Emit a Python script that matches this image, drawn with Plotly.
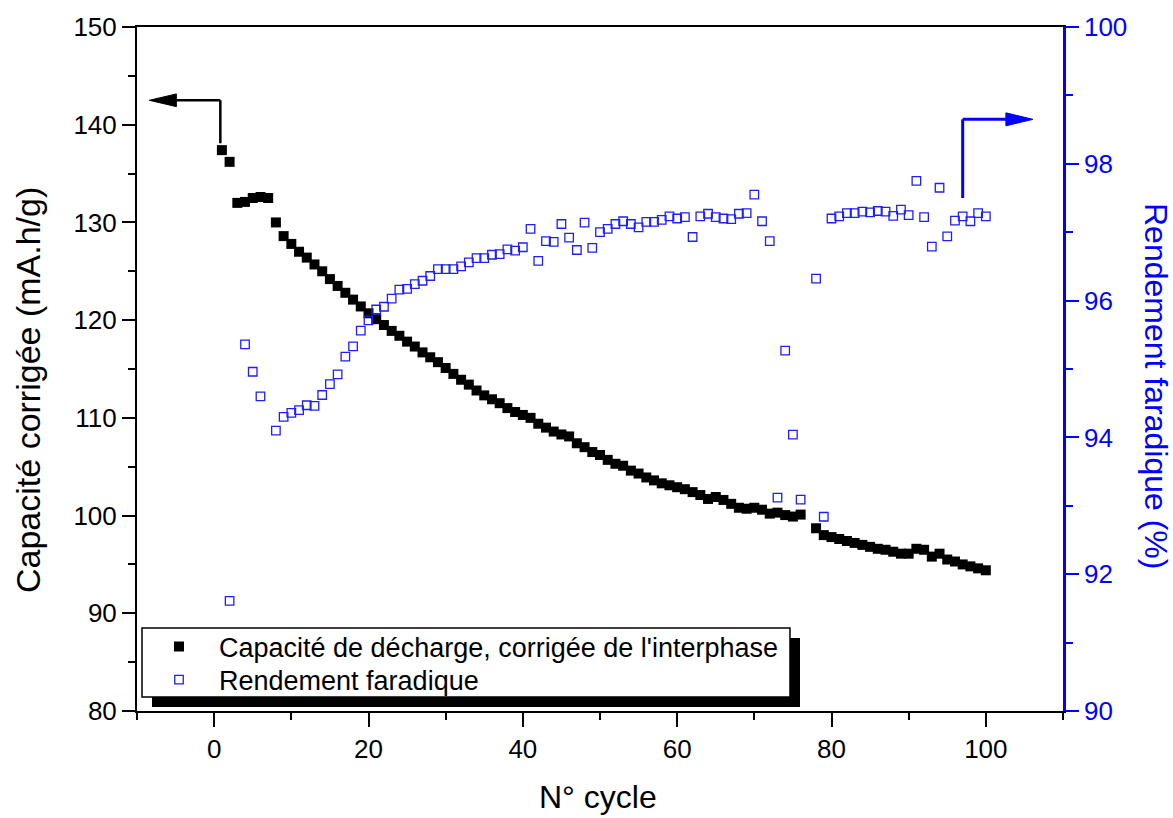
import plotly.graph_objects as go

# Cycle number, discharge capacity (mA.h/g) and faradaic efficiency (%)
cycles = list(range(1, 101))

capacity = [
    137.4, 136.2, 132.0, 132.1, 132.5, 132.6, 132.5, 130.0, 128.6, 127.8,
    127.0, 126.4, 125.7, 125.0, 124.2, 123.5, 122.8, 122.1, 121.4, 120.7,
    120.1, 119.5, 118.9, 118.4, 117.8, 117.3, 116.7, 116.2, 115.7, 115.1,
    114.5, 113.9, 113.4, 112.8, 112.3, 111.9, 111.5, 111.0, 110.6, 110.3,
    110.0, 109.4, 109.0, 108.6, 108.3, 108.1, 107.4, 107.0, 106.5, 106.2,
    105.7, 105.3, 105.1, 104.6, 104.3, 103.9, 103.6, 103.3, 103.1, 102.9,
    102.7, 102.4, 102.1, 101.7, 101.9, 101.6, 101.2, 100.8, 100.7, 100.8,
    100.6, 100.2, 100.3, 100.05, 99.9, 100.1, None, 98.7, 98.0, 97.8,
    97.6, 97.4, 97.2, 97.0, 96.8, 96.6, 96.5, 96.3, 96.1, 96.1,
    96.6, 96.5, 95.8, 96.1, 95.5, 95.3, 95.0, 94.8, 94.6, 94.4,
]

efficiency = [
    None, 91.61, None, 95.36, 94.96, 94.60, None, 94.10, 94.30, 94.36,
    94.40, 94.47, 94.46, 94.62, 94.78, 94.92, 95.18, 95.33, 95.56, 95.71,
    95.87, 95.91, 96.03, 96.16, 96.17, 96.24, 96.29, 96.36, 96.46, 96.46,
    96.46, 96.50, 96.56, 96.62, 96.62, 96.67, 96.68, 96.75, 96.73, 96.78,
    97.05, 96.58, 96.87, 96.86, 97.12, 96.92, 96.74, 97.14, 96.77, 97.00,
    97.05, 97.12, 97.16, 97.12, 97.07, 97.15, 97.15, 97.18, 97.23, 97.20,
    97.22, 96.93, 97.23, 97.27, 97.22, 97.20, 97.19, 97.27, 97.28, 97.55,
    97.16, 96.87, 93.12, 95.27, 94.04, 93.09, None, 96.32, 92.84, 97.20,
    97.23, 97.28, 97.28, 97.30, 97.29, 97.31, 97.30, 97.24, 97.33, 97.25,
    97.75, 97.22, 96.79, 97.65, 96.94, 97.17, 97.23, 97.16, 97.28, 97.23,
]

x_range = [-10, 110]
cap_range = [80, 150]
eff_range = [90, 100]

BLUE = "#0000FF"
FONT = "Arial, Liberation Sans, sans-serif"

W, H = 1173, 818
M_L, M_R, M_T, M_B = 137, 110, 27, 107
PW = W - M_L - M_R
PH = H - M_T - M_B


def px_x(p):
    return (p - M_L) / PW


def px_y(p):
    return (H - M_B - p) / PH


fig = go.Figure()

fig.add_trace(go.Scatter(
    x=cycles, y=capacity, mode="markers",
    name="Capacité de décharge, corrigée de l'interphase",
    marker=dict(symbol="square", size=10, color="black", line=dict(width=0)),
    yaxis="y", legend="legend",
))
fig.add_trace(go.Scatter(
    x=cycles, y=efficiency, mode="markers",
    name="Rendement faradique",
    marker=dict(symbol="square-open", size=8.5, color="#1e1eff",
                line=dict(width=1.3, color="#1e1eff")),
    yaxis="y2", legend="legend2",
))

# Legend frame with its drop shadow, plus direction arrows toward each axis
shapes = [
    dict(type="rect", xref="paper", yref="paper",
         x0=px_x(152), x1=px_x(800), y0=px_y(707), y1=px_y(638),
         fillcolor="black", line=dict(width=0), layer="above"),
    dict(type="rect", xref="paper", yref="paper",
         x0=px_x(142), x1=px_x(790), y0=px_y(697), y1=px_y(628),
         fillcolor="white", line=dict(color="black", width=1.5), layer="above"),
    # left arrow (capacity -> left axis)
    dict(type="line", xref="x", yref="y", x0=0.8, y0=138.1, x1=0.8, y1=142.5,
         line=dict(color="black", width=2.5)),
    dict(type="line", xref="x", yref="y", x0=0.8, y0=142.5, x1=-5.0, y1=142.5,
         line=dict(color="black", width=2.5)),
    dict(type="path", xref="x", yref="y",
         path="M -4.9,143.15 L -8.4,142.5 L -4.9,141.85 Z",
         fillcolor="black", line=dict(color="black", width=1)),
    # right arrow (efficiency -> right axis)
    dict(type="line", xref="x", yref="y2", x0=97.0, y0=97.5, x1=97.0, y1=98.65,
         line=dict(color=BLUE, width=3)),
    dict(type="line", xref="x", yref="y2", x0=97.0, y0=98.65, x1=102.8, y1=98.65,
         line=dict(color=BLUE, width=3)),
    dict(type="path", xref="x", yref="y2",
         path="M 102.6,98.745 L 106.1,98.65 L 102.6,98.555 Z",
         fillcolor=BLUE, line=dict(color=BLUE, width=1)),
]

annotations = [
    dict(text="N° cycle", xref="paper", yref="paper",
         x=px_x(598), y=px_y(817), showarrow=False,
         xanchor="center", yanchor="bottom",
         font=dict(family=FONT, size=32, color="black")),
    dict(text="Capacité corrigée (mA.h/g)", xref="paper", yref="paper",
         x=px_x(28), y=px_y(390), showarrow=False, textangle=-90,
         xanchor="center", yanchor="middle",
         font=dict(family=FONT, size=34, color="black")),
    dict(text="Rendement faradique (%)", xref="paper", yref="paper",
         x=px_x(1156), y=px_y(386), showarrow=False, textangle=90,
         xanchor="center", yanchor="middle",
         font=dict(family=FONT, size=32, color=BLUE)),
]

legend_common = dict(
    xanchor="left", yanchor="middle",
    bgcolor="rgba(0,0,0,0)", borderwidth=0,
    font=dict(family=FONT, size=27, color="black"),
    itemwidth=70,
)

fig.update_layout(
    width=W, height=H,
    margin=dict(l=M_L, r=M_R, t=M_T, b=M_B, pad=0),
    paper_bgcolor="white", plot_bgcolor="white",
    font=dict(family=FONT, color="black"),
    showlegend=True,
    legend=dict(x=px_x(139), y=px_y(647), **legend_common),
    legend2=dict(x=px_x(139), y=px_y(680), **legend_common),
    xaxis=dict(
        range=x_range, tick0=0, dtick=20,
        ticks="outside", ticklen=14, tickwidth=2, tickcolor="black",
        showline=True, linecolor="black", linewidth=2, mirror=True,
        showgrid=False, zeroline=False,
        tickfont=dict(family=FONT, size=26, color="black"),
        minor=dict(tick0=0, dtick=10, ticks="outside", ticklen=7,
                   tickwidth=2, tickcolor="black", showgrid=False),
    ),
    yaxis=dict(
        range=cap_range, tick0=80, dtick=10,
        ticks="outside", ticklen=13, tickwidth=2, tickcolor="black",
        showline=True, linecolor="black", linewidth=2,
        showgrid=False, zeroline=False,
        tickfont=dict(family=FONT, size=26, color="black"),
        minor=dict(tick0=80, dtick=5, ticks="outside", ticklen=7,
                   tickwidth=2, tickcolor="black", showgrid=False),
    ),
    yaxis2=dict(
        range=eff_range, tick0=90, dtick=2, overlaying="y", side="right",
        ticks="outside", ticklen=13, tickwidth=2, tickcolor=BLUE,
        showline=True, linecolor=BLUE, linewidth=2.5,
        showgrid=False, zeroline=False,
        tickfont=dict(family=FONT, size=26, color=BLUE),
        minor=dict(tick0=90, dtick=1, ticks="outside", ticklen=7,
                   tickwidth=2, tickcolor=BLUE, showgrid=False),
    ),
    shapes=shapes,
    annotations=annotations,
)

fig.write_html("out.html")
